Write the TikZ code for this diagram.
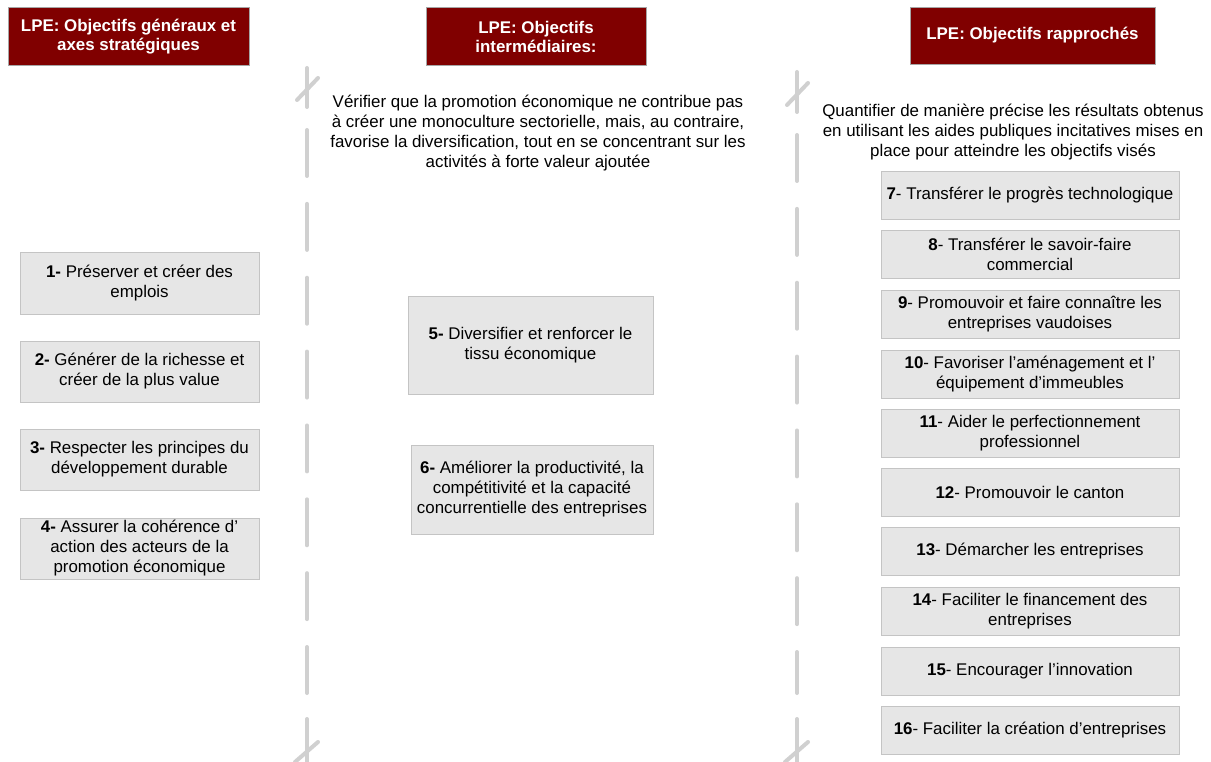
\documentclass[tikz,border=0pt]{standalone}
\usepackage{fontspec}
\setmainfont{Liberation Sans}
\usepackage{tikz}

\definecolor{lpered}{HTML}{800000}
\definecolor{boxgray}{HTML}{E6E6E6}
\definecolor{boxline}{HTML}{C4C4C4}
\definecolor{sepgray}{HTML}{D0D0D0}

\tikzset{
  head/.style={fill=lpered, draw=gray!70, text=white, font=\bfseries\fontsize{16.9}{19}\selectfont, align=center, inner sep=0pt, outer sep=0pt},
  goal/.style={fill=boxgray, draw=boxline, font=\fontsize{16.9}{20}\selectfont, align=center, inner sep=0pt, outer sep=0pt},
  goalleft/.style={goal, minimum width=239pt, minimum height=61pt},
  goalright/.style={goal, minimum width=298pt, minimum height=48pt},
  plaintext/.style={font=\fontsize{16.9}{20}\selectfont, align=center, inner sep=0pt},
  sepline/.style={sepgray, line width=4pt, line cap=round},
}

\begin{document}
\begin{tikzpicture}[x=1pt, y=-1pt]
\useasboundingbox (0,0) rectangle (1211,762);

% headers
\node[head, minimum width=241pt, minimum height=58pt] (h1) at (128.5,36.5) {LPE: Objectifs généraux et\\axes stratégiques};
\node[head, minimum width=220pt, minimum height=58pt] (h2) at (536,36.5) {LPE: Objectifs\\intermédiaires:};
\node[head, minimum width=245pt, minimum height=57pt] (h3) at (1032.5,35.5) {LPE: Objectifs rapprochés};

% separators
\draw[sepline] (307,68) -- (307,107);
\draw[sepline] (297,100) -- (318,78);
\draw[sepline, dash pattern=on 46pt off 27.86pt] (307,130) -- (307,693);
\draw[sepline] (307,719) -- (307,762);
\draw[sepline] (295,762) -- (318,742);

\draw[sepline] (797,72) -- (797,112);
\draw[sepline] (787,105) -- (808,83);
\draw[sepline, dash pattern=on 46pt off 27.86pt] (797,135) -- (797,693);
\draw[sepline] (797,719) -- (797,762);
\draw[sepline] (785,762) -- (808,742);

% intro texts
\node[plaintext] (midtext) at (538,133) {Vérifier que la promotion économique ne contribue pas\\à créer une monoculture sectorielle, mais, au contraire,\\favorise la diversification, tout en se concentrant sur les\\activités à forte valeur ajoutée};
\node[plaintext] (righttext) at (1013,132) {Quantifier de manière précise les résultats obtenus\\en utilisant les aides publiques incitatives mises en\\place pour atteindre les objectifs visés};

% left column
\node[goalleft, minimum height=62pt] (g1) at (139.5,283) {\textbf{1-} Préserver et créer des\\emplois};
\node[goalleft] (g2) at (139.5,371.5) {\textbf{2-} Générer de la richesse et\\créer de la plus value};
\node[goalleft] (g3) at (139.5,459.5) {\textbf{3-} Respecter les principes du\\développement durable};
\node[goalleft] (g4) at (139.5,548.5) {\textbf{4-} Assurer la cohérence d’\\action des acteurs de la\\promotion économique};

% middle column
\node[goal, minimum width=245pt, minimum height=98pt] (g5) at (530.5,345) {\textbf{5-} Diversifier et renforcer le\\tissu économique};
\node[goal, minimum width=242pt, minimum height=89pt] (g6) at (532,489.5) {\textbf{6-} Améliorer la productivité, la\\compétitivité et la capacité\\concurrentielle des entreprises};

% right column
\node[goalright] (g7) at (1030,195) {\textbf{7}- Transférer le progrès technologique};
\node[goalright] (g8) at (1030,254.5) {\textbf{8}- Transférer le savoir-faire\\commercial};
\node[goalright] (g9) at (1030,314) {\textbf{9}- Promouvoir et faire connaître les\\entreprises vaudoises};
\node[goalright] (g10) at (1030,374) {\textbf{10}- Favoriser l’aménagement et l’\\équipement d’immeubles};
\node[goalright] (g11) at (1030,433) {\textbf{11}- Aider le perfectionnement\\professionnel};
\node[goalright] (g12) at (1030,492.5) {\textbf{12}- Promouvoir le canton};
\node[goalright] (g13) at (1030,551.5) {\textbf{13}- Démarcher les entreprises};
\node[goalright] (g14) at (1030,611.5) {\textbf{14}- Faciliter le financement des\\entreprises};
\node[goalright] (g15) at (1030,671) {\textbf{15}- Encourager l’innovation};
\node[goalright] (g16) at (1030,730) {\textbf{16}- Faciliter la création d’entreprises};
\end{tikzpicture}
\end{document}
